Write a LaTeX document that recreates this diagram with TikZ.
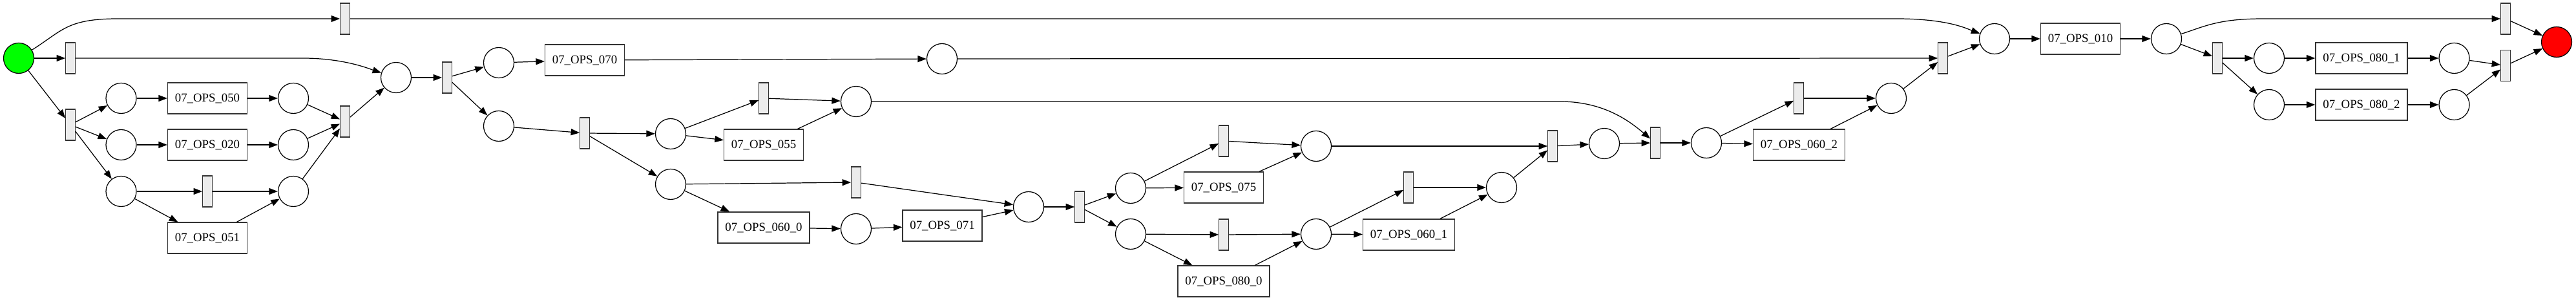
\documentclass[tikz,border=0pt]{standalone}
\usepackage{fontspec}
\setmainfont{Liberation Serif}
\usepackage{tikz}
\usetikzlibrary{arrows.meta,calc}
\definecolor{startgreen}{RGB}{0,255,0}
\definecolor{endred}{RGB}{255,0,0}
\definecolor{silentbg}{RGB}{236,236,236}
\definecolor{boxline}{RGB}{50,50,50}
\tikzset{
  place/.style={circle, draw, line width=0.7pt, minimum size=0.94cm, inner sep=0pt},
  silent/.style={rectangle, draw=boxline, fill=silentbg, line width=0.7pt,
                 minimum width=0.29cm, minimum height=0.96cm, inner sep=0pt},
  activity/.style={rectangle, draw=boxline, line width=0.7pt, minimum width=#1,
                   minimum height=0.96cm, inner sep=0pt, font=\fontsize{10.7}{12}\selectfont},
  activity/.default=2.46cm,
}

\begin{document}
\begin{tikzpicture}[
  flow/.style={-{Triangle[length=0.27cm,width=0.2cm]}, line width=0.7pt},
  wide/.style={activity=2.84cm}
]
  \useasboundingbox (0,0) rectangle (79.74,-9.28);
  % places
  \node[place, fill=startgreen] (src) at (0.58,-1.80) {};
  \node[place] (p1) at (3.75,-3.04) {};
  \node[place] (p2) at (3.75,-4.48) {};
  \node[place] (p3) at (3.75,-5.92) {};
  \node[place] (p4) at (9.08,-3.04) {};
  \node[place] (p5) at (9.08,-4.48) {};
  \node[place] (p6) at (9.08,-5.92) {};
  \node[place] (p7) at (12.26,-2.40) {};
  \node[place] (p8) at (15.44,-1.94) {};
  \node[place] (p9) at (15.44,-3.90) {};
  \node[place] (p10) at (20.76,-4.14) {};
  \node[place] (p11) at (20.76,-5.70) {};
  \node[place] (p12) at (26.50,-3.14) {};
  \node[place] (p13) at (26.50,-7.08) {};
  \node[place] (p14) at (29.16,-1.82) {};
  \node[place] (p15) at (31.84,-6.40) {};
  \node[place] (p16) at (35.00,-5.82) {};
  \node[place] (p17) at (35.00,-7.24) {};
  \node[place] (p18) at (40.74,-4.52) {};
  \node[place] (p19) at (40.74,-7.24) {};
  \node[place] (p20) at (46.48,-5.80) {};
  \node[place] (p21) at (49.66,-4.44) {};
  \node[place] (p22) at (52.82,-4.42) {};
  \node[place] (p23) at (58.54,-3.04) {};
  \node[place] (p24) at (61.74,-1.20) {};
  \node[place] (p25) at (67.06,-1.20) {};
  \node[place] (p26) at (70.24,-1.80) {};
  \node[place] (p27) at (70.24,-3.24) {};
  \node[place] (p28) at (75.97,-1.80) {};
  \node[place] (p29) at (75.97,-3.24) {};
  \node[place, fill=endred] (sink) at (79.14,-1.30) {};
  % silent transitions
  \node[silent] (t0) at (10.68,-0.58) {};
  \node[silent] (t1) at (2.18,-1.80) {};
  \node[silent] (t2) at (2.18,-3.86) {};
  \node[silent] (t3) at (6.42,-5.92) {};
  \node[silent] (t4) at (10.68,-3.76) {};
  \node[silent] (t5) at (13.84,-2.40) {};
  \node[silent] (t6) at (18.10,-4.12) {};
  \node[silent] (t7) at (23.64,-3.04) {};
  \node[silent] (t8) at (26.50,-5.64) {};
  \node[silent] (t9) at (33.42,-6.40) {};
  \node[silent] (t10) at (37.88,-4.36) {};
  \node[silent] (t11) at (37.88,-7.26) {};
  \node[silent] (t12) at (43.60,-5.80) {};
  \node[silent] (t13) at (48.06,-4.52) {};
  \node[silent] (t14) at (51.24,-4.42) {};
  \node[silent] (t15) at (55.68,-3.04) {};
  \node[silent] (t16) at (60.14,-1.80) {};
  \node[silent] (t17) at (68.64,-1.80) {};
  \node[silent] (t18) at (77.56,-0.58) {};
  \node[silent] (t19) at (77.56,-2.03) {};
  % labelled transitions
  \node[activity] (a050) at (6.42,-3.04) {07\_OPS\_050};
  \node[activity] (a020) at (6.42,-4.48) {07\_OPS\_020};
  \node[activity] (a051) at (6.42,-7.36) {07\_OPS\_051};
  \node[activity] (a070) at (18.10,-1.86) {07\_OPS\_070};
  \node[activity] (a055) at (23.64,-4.48) {07\_OPS\_055};
  \node[wide] (a0600) at (23.64,-7.04) {07\_OPS\_060\_0};
  \node[activity] (a071) at (29.17,-6.98) {07\_OPS\_071};
  \node[activity] (a075) at (37.88,-5.80) {07\_OPS\_075};
  \node[wide] (a0800) at (37.88,-8.70) {07\_OPS\_080\_0};
  \node[wide] (a0601) at (43.61,-7.26) {07\_OPS\_060\_1};
  \node[wide] (a0602) at (55.69,-4.48) {07\_OPS\_060\_2};
  \node[activity] (a010) at (64.40,-1.20) {07\_OPS\_010};
  \node[wide] (a0801) at (73.10,-1.80) {07\_OPS\_080\_1};
  \node[wide] (a0802) at (73.10,-3.24) {07\_OPS\_080\_2};
  % arcs
  \foreach \a/\b in {src/t1, src/t2, t2/p1, t2/p2, t2/p3, p1/a050, a050/p4,
      p2/a020, a020/p5, p3/t3, t3/p6, p3/a051, a051/p6, p4/t4, p5/t4, p6/t4,
      t4/p7, p7/t5, t5/p8, t5/p9, p8/a070, a070/p14, p9/t6, t6/p10, t6/p11,
      p10/t7, p10/a055, t7/p12, a055/p12, p11/t8, p11/a0600, a0600/p13,
      t8/p15, p13/a071, a071/p15, p15/t9, t9/p16, t9/p17, p16/t10, p16/a075,
      t10/p18, a075/p18, p17/t11, p17/a0800, t11/p19, a0800/p19, p18/t13,
      p19/t12, p19/a0601, t12/p20, a0601/p20, p20/t13, t13/p21, p21/t14,
      t14/p22, p22/t15, p22/a0602, t15/p23, a0602/p23, p23/t16, p14/t16,
      t16/p24, p24/a010, a010/p25, p25/t17, t17/p26, t17/p27, p26/a0801,
      a0801/p28, p27/a0802, a0802/p29, p28/t19, p29/t19, t18/sink, t19/sink}
    \draw[flow] (\a) -- (\b);
  % long bent arcs
  \draw[flow] (src) .. controls +(32:1.6) and +(-1.6,0) .. ($(t0)+(-7.02,0)$) -- (t0);
  \draw[flow] (t0) -- ($(p24 |- t0)+(-3.04,0)$) .. controls +(1.6,0) and +(160:0.9) .. (p24);
  \draw[flow] (t1) -- ($(p7 |- t1)+(-2.88,0)$) .. controls +(1.3,0) and +(162:0.8) .. (p7);
  \draw[flow] (p12) -- ($(t14 |- p12)+(-2.96,0)$) .. controls +(1.4,0) and +(140:1.0) .. (t14);
  \draw[flow] (p25) .. controls +(18:1.3) and +(-1.4,0) .. ($(t18)+(-7.48,0)$) -- (t18);
\end{tikzpicture}
\end{document}
